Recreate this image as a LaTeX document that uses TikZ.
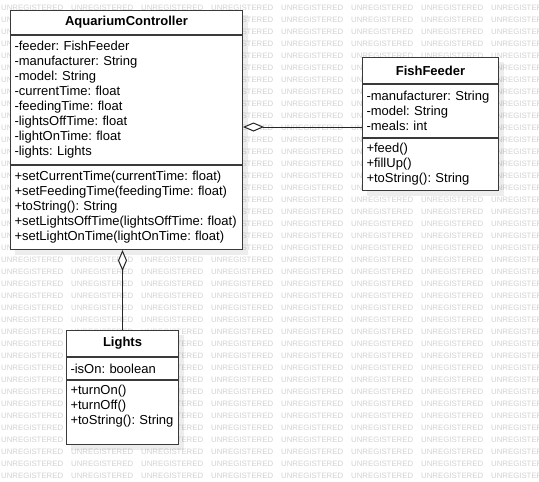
\documentclass[tikz,border=0pt]{standalone}
\usepackage{fontspec}
\setmainfont{Liberation Sans}
\usetikzlibrary{arrows.meta,backgrounds}
\frenchspacing

\definecolor{boxline}{HTML}{3A3A3A}
\definecolor{wmgray}{HTML}{D2D2D2}

\begin{document}
\begin{tikzpicture}[x=1pt, y=-1pt,
        font=\fontsize{13}{15}\selectfont,
        umltitle/.style={draw=boxline, fill=white, line width=1pt, font=\fontsize{13}{15}\selectfont\bfseries, inner sep=0pt, anchor=north west},
        umlpart/.style={draw=boxline, fill=white, line width=1pt, align=left, inner xsep=4pt, inner ysep=0pt, anchor=north west},
        aggregation/.style={draw=black!85, line width=1pt, {Diamond[fill=white, length=21pt, width=9pt]}-},
        watermark/.style={text=wmgray, font=\fontsize{7.8}{9}\selectfont, inner sep=0pt, anchor=west},
        boxshadow/.style={fill=black, opacity=0.07}] %uml
            \useasboundingbox (0,0) rectangle (539,482);

            % AquariumController
            \node[umltitle, minimum width=232pt, minimum height=24pt] (acname) at (10,10) {AquariumController};
            \node[umlpart, text width=224pt, minimum height=129pt] (acattr) at (acname.south west) {-feeder: FishFeeder\\-manufacturer: String\\-model: String\\-currentTime: float\\-feedingTime: float\\-lightsOffTime: float\\-lightOnTime: float\\-lights: Lights};
            \node[umlpart, text width=224pt, minimum height=84pt] (acops) at (acattr.south west) {+setCurrentTime(currentTime: float)\\+setFeedingTime(feedingTime: float)\\+toString(): String\\+setLightsOffTime(lightsOffTime: float)\\+setLightOnTime(lightOnTime: float)};

            % FishFeeder
            \node[umltitle, minimum width=136pt, minimum height=26pt] (ffname) at (362,57) {FishFeeder};
            \node[umlpart, text width=128pt, minimum height=53pt] (ffattr) at (ffname.south west) {-manufacturer: String\\-model: String\\-meals: int};
            \node[umlpart, text width=128pt, minimum height=52pt] (ffops) at (ffattr.south west) {+feed()\\+fillUp()\\+toString(): String};

            % Lights
            \node[umltitle, minimum width=112pt, minimum height=26pt] (lname) at (66,330) {Lights};
            \node[umlpart, text width=104pt, minimum height=22pt] (lattr) at (lname.south west) {-isOn: boolean};
            \node[umlpart, text width=104pt, minimum height=64pt] (lops) at (lattr.south west) {+turnOn()\\+turnOff()\\+toString(): String\\\mbox{}};

            \coordinate (ffin) at ([yshift=-16pt]ffattr.west);
            \draw[aggregation] (acattr.east |- ffin) -- (ffin);
            \draw[aggregation] (acops.south -| lname.north) -- (lname.north);

            \begin{scope}[on background layer]
                \fill[white] (0,0) rectangle (539,482);
                \foreach \r in {0,...,39}
                    \foreach \c in {0,...,7}
                        \node[watermark] (wm-\r-\c) at (1+70*\c, 8+12*\r) {UNREGISTERED};

                \fill[boxshadow] ([shift={(5pt,-5pt)}]acname.north west) rectangle ([shift={(5pt,-5pt)}]acops.south east);
                \fill[boxshadow] ([shift={(5pt,-5pt)}]ffname.north west) rectangle ([shift={(5pt,-5pt)}]ffops.south east);
                \fill[boxshadow] ([shift={(5pt,-5pt)}]lname.north west) rectangle ([shift={(5pt,-5pt)}]lops.south east);
            \end{scope}
        \end{tikzpicture}
\end{document}
